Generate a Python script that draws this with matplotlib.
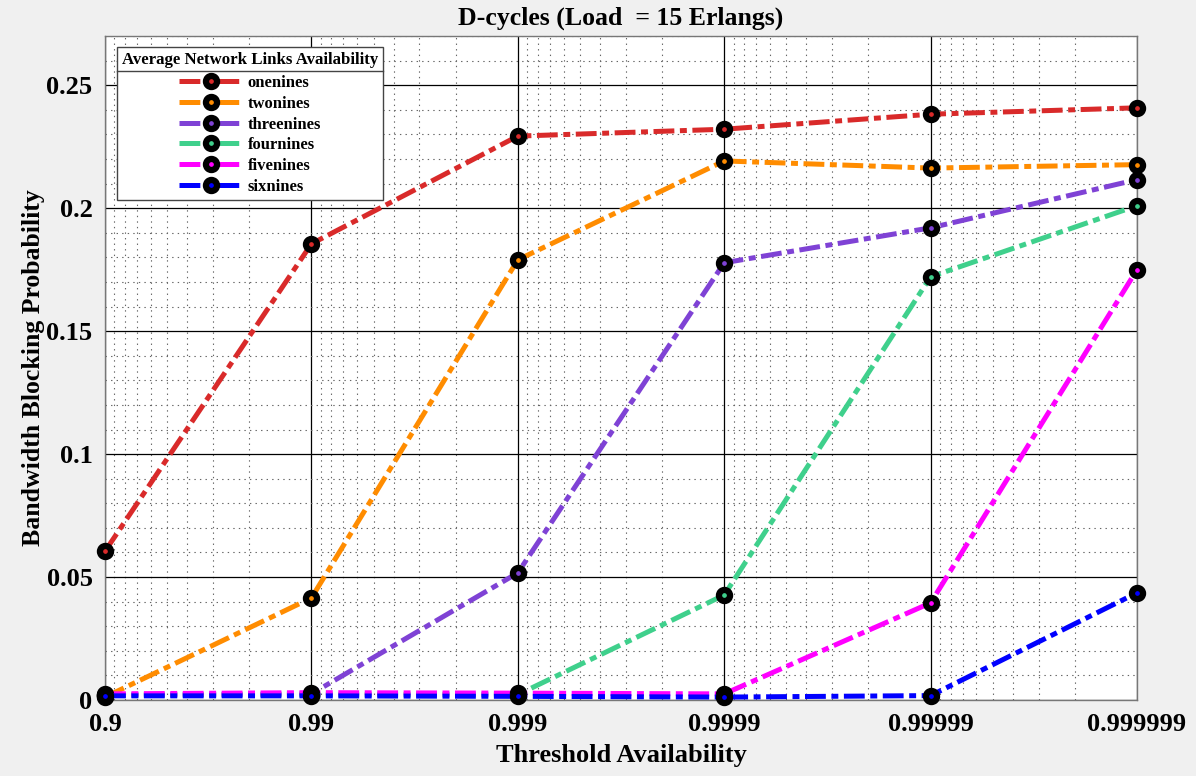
import matplotlib
matplotlib.use("Agg")
from matplotlib import pyplot as plt
from matplotlib.lines import Line2D
from matplotlib.ticker import MultipleLocator, LogLocator, NullFormatter

plt.rcParams['font.family'] = ['Liberation Serif', 'DejaVu Serif']
plt.rcParams['font.weight'] = 'bold'
plt.rcParams['lines.scale_dashes'] = False

# threshold availability values (x), plotted as 1 - A on a reversed log axis
threshold = [0.9, 0.99, 0.999, 0.9999, 0.99999, 0.999999]
tick_labels = ["0.9", "0.99", "0.999", "0.9999", "0.99999", "0.999999"]

onenines = [0.0605, 0.1855, 0.2293, 0.2321, 0.2382, 0.2408]
twonines = [0.0012, 0.0415, 0.1790, 0.2192, 0.2163, 0.2177]
threenines = [0.0020, 0.0025, 0.0517, 0.1778, 0.1920, 0.2116]
fournines = [0.0020, 0.0022, 0.0022, 0.0427, 0.1721, 0.2010]
fivenines = [0.0025, 0.0030, 0.0028, 0.0025, 0.0395, 0.1750]
sixnines = [0.0017, 0.0017, 0.0015, 0.0012, 0.0018, 0.0436]

series = [("onenines", onenines, "#d92a2a"),
          ("twonines", twonines, "#ff8c00"),
          ("threenines", threenines, "#7f42d5"),
          ("fournines", fournines, "#3fd08c"),
          ("fivenines", fivenines, "#ff00ff"),
          ("sixnines", sixnines, "#0000ff")]

fig = plt.figure(figsize=(11.96, 7.76), dpi=100, facecolor="#f0f0f0")
ax = fig.add_axes([0.0878, 0.0979, 0.8629, 0.8557])
ax.set_facecolor("white")

u = [1 - a for a in threshold]
for name, vals, col in series:
    ax.plot(u, vals, color=col, lw=3.6, dashes=(15, 4, 5, 4),
            marker="o", ms=8, mew=4.5, mec="black", mfc=col, label=name,
            clip_on=False, zorder=5)

ax.set_xscale("log")
ax.set_xlim(0.1, 1e-6)
ax.set_xticks(u)
ax.set_xticklabels(tick_labels)
ax.xaxis.set_minor_locator(LogLocator(base=10, subs=range(2, 10)))
ax.xaxis.set_minor_formatter(NullFormatter())

ax.set_ylim(0, 0.27)
ax.set_yticks([0, 0.05, 0.1, 0.15, 0.2, 0.25])
ax.set_yticklabels(["0", "0.05", "0.1", "0.15", "0.2", "0.25"])
ax.yaxis.set_minor_locator(MultipleLocator(0.01))

ax.grid(which="major", color="black", lw=0.9, ls="-")
ax.grid(which="minor", color="#666666", lw=0.8, ls=(0, (1, 3)))
ax.set_axisbelow(True)
ax.tick_params(which="both", direction="in", length=0, labelsize=19, pad=9)
for s in ax.spines.values():
    s.set_color("#777777")
    s.set_linewidth(1.0)

ax.set_xlabel("Threshold Availability", fontsize=19, fontweight="bold", labelpad=6)
ax.set_ylabel("Bandwidth Blocking Probability", fontsize=18.5, fontweight="bold", labelpad=1)
ax.set_title("D-cycles (Load  = 15 Erlangs)", fontsize=18.5, fontweight="bold", pad=8)

leg = ax.legend(loc="upper left", bbox_to_anchor=(0.0115, 0.983),
                title="Average Network Links Availability",
                title_fontproperties={"weight": "bold", "size": 12.1},
                prop={"weight": "bold", "size": 12},
                fancybox=False, edgecolor="#444444", framealpha=1,
                handlelength=3.8, labelspacing=0.28, borderpad=0.3,
                handletextpad=0.3, borderaxespad=0)
leg.get_frame().set_linewidth(1.0)
leg._legend_box.align = "center"
leg._legend_box.sep = 5

fig.canvas.draw()
tb = leg.get_title().get_window_extent()
fb = leg.get_frame().get_window_extent()
yline = (tb.y0 - 3) / fig.bbox.height
fig.add_artist(Line2D([fb.x0 / fig.bbox.width, fb.x1 / fig.bbox.width], [yline, yline],
                      color="#444444", lw=1.0, zorder=10))

fig.savefig("out.png", dpi=100, facecolor=fig.get_facecolor())
